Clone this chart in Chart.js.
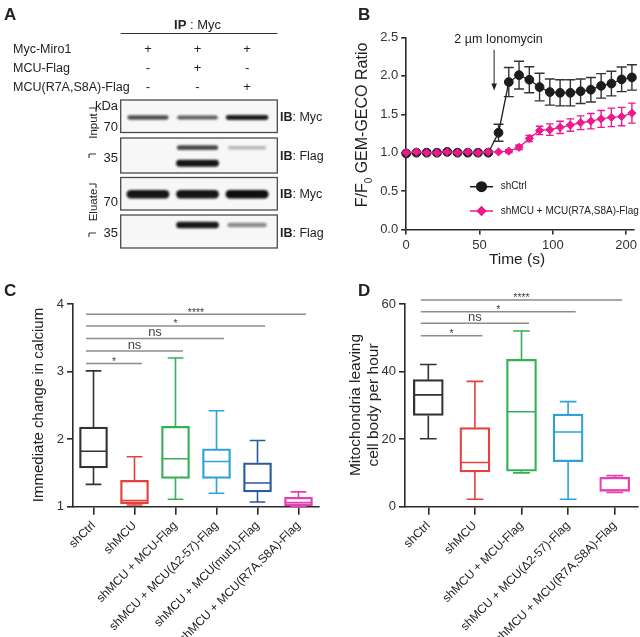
<!DOCTYPE html>
<html>
<head>
<meta charset="utf-8">
<script src="https://cdn.jsdelivr.net/npm/chart.js@4.4.1/dist/chart.umd.min.js"></script>
<style>
  html, body { margin: 0; background: #fff; }
  #fig { position: relative; width: 640px; height: 637px; overflow: hidden; background: #fff; }
  #fig canvas { position: absolute; }
</style>
</head>
<body>
<div id="fig">
  <canvas id="blot" width="330" height="278" style="left:0;top:0"></canvas>
  <canvas id="trace" width="310" height="278" style="left:330px;top:0"></canvas>
  <canvas id="calcium" width="330" height="359" style="left:0;top:278px"></canvas>
  <canvas id="mito" width="310" height="359" style="left:330px;top:278px"></canvas>
</div>
<script>
const FONT = '"Liberation Sans", Arial, Helvetica, sans-serif';
const INK = '#222';
const AXIS = '#2b2b2b';

// ---- panel A : co-IP lanes, band strength 0..1
const mycMiro1Row = ['+', '+', '+'];
const mcuFlagRow = ['-', '+', '-'];
const mcuMutFlagRow = ['-', '-', '+'];
const inputMycBand = [0.7, 0.62, 0.93];
const inputFlagUpperBand = [0, 0.72, 0.2];
const inputFlagLowerBand = [0, 0.97, 0];
const eluateMycBand = [0.97, 0.97, 1];
const eluateFlagBand = [0, 0.95, 0.4];

// ---- panel B : GEM-GECO trace
const timeSec = [0, 7, 14, 21, 28, 35, 42, 49, 56, 63, 70, 77, 84, 91, 98, 105, 112, 119, 126, 133, 140, 147, 154];
const shCtrlRatio = [0.99, 1.0, 1.0, 1.0, 1.01, 1.0, 1.0, 1.0, 1.0, 1.26, 1.92, 2.01, 1.95, 1.855, 1.79, 1.78, 1.78, 1.80, 1.82, 1.87, 1.90, 1.955, 1.98];
const shCtrlSem = [0.01, 0.01, 0.01, 0.01, 0.01, 0.01, 0.01, 0.01, 0.01, 0.11, 0.19, 0.18, 0.17, 0.18, 0.17, 0.17, 0.17, 0.16, 0.16, 0.16, 0.16, 0.16, 0.165];
const rescueRatio = [1.0, 1.01, 1.0, 1.0, 1.01, 1.0, 1.01, 1.0, 1.01, 1.01, 1.02, 1.07, 1.185, 1.29, 1.30, 1.33, 1.36, 1.39, 1.41, 1.44, 1.46, 1.47, 1.515];
const rescueSem = [0.01, 0.01, 0.01, 0.01, 0.01, 0.01, 0.01, 0.01, 0.01, 0.01, 0.02, 0.03, 0.04, 0.055, 0.075, 0.08, 0.08, 0.09, 0.10, 0.11, 0.12, 0.12, 0.13];
const timeTicks = [0, 50, 100, 150];
const timeTickLabels = ['0', '50', '100', '200'];

// ---- panel C : immediate change in calcium
const calciumGroups = ['shCtrl', 'shMCU', 'shMCU + MCU-Flag', 'shMCU + MCU(\u03942-57)-Flag', 'shMCU + MCU(mut1)-Flag', 'shMCU + MCU(R7A,S8A)-Flag'];
const calciumMin = [1.33, 1.025, 1.11, 1.20, 1.07, 1.0];
const calciumQ1 = [1.575, 1.04, 1.42, 1.42, 1.22, 1.015];
const calciumMedian = [1.82, 1.09, 1.71, 1.67, 1.35, 1.06];
const calciumQ3 = [2.18, 1.39, 2.19, 1.855, 1.65, 1.14];
const calciumMax = [3.01, 1.74, 3.2, 2.42, 1.98, 1.22];
const calciumSigTo = [5, 4, 3, 2, 1];
const calciumSigY = [3.85, 3.675, 3.49, 3.305, 3.12];
const calciumSigText = ['****', '*', 'ns', 'ns', '*'];

// ---- panel D : mitochondria leaving cell body
const mitoGroups = ['shCtrl', 'shMCU', 'shMCU + MCU-Flag', 'shMCU + MCU(\u03942-57)-Flag', 'shMCU + MCU(R7A,S8A)-Flag'];
const mitoMin = [20.1, 2.2, 10.0, 2.2, 4.2];
const mitoQ1 = [27.0, 10.3, 10.5, 13.3, 4.5];
const mitoMedian = [33.1, 13.1, 28.1, 22.1, 4.9];
const mitoQ3 = [37.6, 23.4, 43.6, 27.4, 8.7];
const mitoMax = [42.1, 37.1, 52.0, 31.1, 9.2];
const mitoSigTo = [4, 3, 2, 1];
const mitoSigY = [61.2, 57.7, 54.3, 50.6];
const mitoSigText = ['****', '*', 'ns', '*'];

function drawText(ctx, str, x, y, o) {
  o = o || {};
  ctx.save();
  ctx.font = (o.weight || 'normal') + ' ' + (o.size || 12) + 'px ' + FONT;
  ctx.fillStyle = o.color || INK;
  ctx.textAlign = o.align || 'left';
  ctx.textBaseline = o.baseline || 'alphabetic';
  ctx.translate(x, y);
  if (o.rotate) ctx.rotate(o.rotate);
  ctx.fillText(str, 0, 0);
  ctx.restore();
}

// bold prefix + normal rest, e.g. "IB: Myc"
function drawBoldLead(ctx, bold, rest, x, y, size, center) {
  ctx.save();
  ctx.font = 'bold ' + size + 'px ' + FONT;
  const w1 = ctx.measureText(bold).width;
  ctx.font = size + 'px ' + FONT;
  const w2 = ctx.measureText(rest).width;
  const x0 = center ? x - (w1 + w2) / 2 : x;
  ctx.restore();
  drawText(ctx, bold, x0, y, { size: size, weight: 'bold' });
  drawText(ctx, rest, x0 + w1, y, { size: size });
}

function line(ctx, x0, y0, x1, y1) {
  ctx.moveTo(x0, y0); ctx.lineTo(x1, y1);
}

const baseOptions = {
  responsive: false,
  animation: false,
  devicePixelRatio: 1,
  events: []
};

// =============== A: blot ===============
const blotStrips = [[0, 32.5], [38, 73], [77.5, 110], [115, 148]];
const bandRows = [
  { at: 17.5, strength: inputMycBand, thick: 5 },
  { at: 47.7, strength: inputFlagUpperBand, thick: 5.5 },
  { at: 63.2, strength: inputFlagLowerBand, thick: 7 },
  { at: 94.3, strength: eluateMycBand, thick: 8.5 },
  { at: 125, strength: eluateFlagBand, thick: 6.5 }
];

const blotPlugin = {
  id: 'blot',
  beforeDatasetsDraw(chart) {
    const { ctx, scales: { x, y } } = chart;
    const x0 = x.getPixelForValue(x.min), x1 = x.getPixelForValue(x.max);
    ctx.save();
    blotStrips.forEach(s => {
      const t = y.getPixelForValue(s[0]), b = y.getPixelForValue(s[1]);
      ctx.fillStyle = '#f7f7f7';
      ctx.fillRect(x0, t, x1 - x0, b - t);
    });
    ctx.filter = 'blur(1.1px)';
    bandRows.forEach(row => row.strength.forEach((s, i) => {
      if (s <= 0.02) return;
      const cx = x.getPixelForValue(i), cy = y.getPixelForValue(row.at);
      const w = 37 + 6 * s, h = row.thick * (0.55 + 0.45 * s);
      ctx.fillStyle = 'rgba(14,14,14,' + Math.min(1, 0.1 + 0.9 * s) + ')';
      ctx.beginPath();
      if (ctx.roundRect) ctx.roundRect(cx - w / 2, cy - h / 2, w, h, h / 2);
      else ctx.rect(cx - w / 2, cy - h / 2, w, h);
      ctx.fill();
    }));
    ctx.filter = 'none';
    ctx.strokeStyle = '#4a4a4a';
    ctx.lineWidth = 1.3;
    blotStrips.forEach(s => {
      const t = y.getPixelForValue(s[0]), b = y.getPixelForValue(s[1]);
      ctx.strokeRect(x0, t, x1 - x0, b - t);
    });
    ctx.restore();
  },
  afterDraw(chart) {
    const { ctx, scales: { x } } = chart;
    const x0 = x.getPixelForValue(x.min), x1 = x.getPixelForValue(x.max);
    drawText(ctx, 'A', 4, 20, { size: 17, weight: 'bold' });
    drawBoldLead(ctx, 'IP', ' : Myc', x.getPixelForValue(1), 29, 13, true);
    ctx.save();
    ctx.strokeStyle = '#333'; ctx.lineWidth = 1.2;
    ctx.beginPath(); line(ctx, x0, 33.5, x1, 33.5); ctx.stroke();
    ctx.restore();

    const rows = [['Myc-Miro1', mycMiro1Row, 53], ['MCU-Flag', mcuFlagRow, 72], ['MCU(R7A,S8A)-Flag', mcuMutFlagRow, 91]];
    rows.forEach(r => {
      drawText(ctx, r[0], 13, r[2], { size: 12.5 });
      r[1].forEach((s, i) => drawText(ctx, s, x.getPixelForValue(i), r[2], { size: 13, align: 'center' }));
    });

    [['kDa', 110], ['70', 131], ['35', 161.5], ['70', 206], ['35', 236.5]].forEach(m =>
      drawText(ctx, m[0], 118, m[1], { size: 13, align: 'right' }));

    drawText(ctx, 'Input', 94, 126, { size: 11.5, align: 'center', baseline: 'middle', rotate: -Math.PI / 2 });
    drawText(ctx, 'Eluate', 94, 205, { size: 11.5, align: 'center', baseline: 'middle', rotate: -Math.PI / 2 });
    ctx.save();
    ctx.strokeStyle = '#333'; ctx.lineWidth = 1.1;
    ctx.beginPath();
    [[108, 154], [184, 233]].forEach(b => {
      line(ctx, 89, b[0], 96, b[0]); line(ctx, 96, b[0], 96, b[0] + 4);
      line(ctx, 89, b[1], 96, b[1]); line(ctx, 89, b[1], 89, b[1] + 4);
    });
    ctx.stroke();
    ctx.restore();

    [['Myc', 121], ['Flag', 160], ['Myc', 198], ['Flag', 236.5]].forEach(m =>
      drawBoldLead(ctx, 'IB', ': ' + m[0], 280, m[1], 12.5, false));
  }
};

new Chart(document.getElementById('blot'), {
  type: 'scatter',
  data: { datasets: [] },
  options: Object.assign({}, baseOptions, {
    layout: { autoPadding: false, padding: { left: 120.7, right: 52.7, top: 100, bottom: 30 } },
    plugins: { legend: { display: false }, tooltip: { enabled: false } },
    scales: {
      x: { type: 'linear', display: false, min: -0.55, max: 2.61 },
      y: { type: 'linear', display: false, min: 0, max: 148, reverse: true }
    }
  }),
  plugins: [blotPlugin]
});

// =============== B: trace ===============
const PINK = '#ec1a8d';
const DARK = '#1c1c1c';

const errorBars = {
  id: 'errorBars',
  beforeDatasetsDraw(chart) {
    const { ctx, scales: { x, y } } = chart;
    ctx.save();
    chart.data.datasets.forEach(ds => {
      ctx.strokeStyle = ds.barColor;
      ctx.lineWidth = 1.4;
      ctx.beginPath();
      ds.data.forEach((p, i) => {
        const e = ds.sem[i];
        if (e < 0.02) return;
        const px = x.getPixelForValue(p.x);
        const hi = y.getPixelForValue(p.y + e), lo = y.getPixelForValue(p.y - e);
        line(ctx, px, hi, px, lo);
        line(ctx, px - ds.capHalf, hi, px + ds.capHalf, hi);
        line(ctx, px - ds.capHalf, lo, px + ds.capHalf, lo);
      });
      ctx.stroke();
    });
    ctx.restore();
  }
};

const traceDecor = {
  id: 'traceDecor',
  afterDraw(chart) {
    const { ctx, scales: { x, y } } = chart;
    drawText(ctx, 'B', 28, 20, { size: 17, weight: 'bold' });

    // ionomycin arrow
    const ax = x.getPixelForValue(60);
    const aTop = y.getPixelForValue(2.34), aTip = y.getPixelForValue(1.81);
    ctx.save();
    ctx.strokeStyle = '#222'; ctx.fillStyle = '#222'; ctx.lineWidth = 1;
    ctx.beginPath(); line(ctx, ax, aTop, ax, aTip - 5); ctx.stroke();
    ctx.beginPath(); ctx.moveTo(ax - 2.8, aTip - 7); ctx.lineTo(ax + 2.8, aTip - 7); ctx.lineTo(ax, aTip); ctx.closePath(); ctx.fill();
    ctx.restore();
    drawText(ctx, '2 \u00b5m Ionomycin', x.getPixelForValue(63), y.getPixelForValue(2.5) + 5.5, { size: 12.5, align: 'center' });

    // legend
    const legend = [['shCtrl', DARK, 'circle', 186.7], ['shMCU + MCU(R7A,S8A)-Flag', PINK, 'rectRot', 211]];
    legend.forEach(l => {
      ctx.save();
      ctx.strokeStyle = l[1]; ctx.lineWidth = 1.5;
      ctx.beginPath(); line(ctx, 140, l[3], 163, l[3]); ctx.stroke();
      ctx.fillStyle = l[1];
      Chart.helpers.drawPoint(ctx, { pointStyle: l[2], radius: l[2] === 'circle' ? 4.8 : 4.2, borderWidth: 1 }, 151.5, l[3]);
      ctx.fill();
      ctx.restore();
      drawText(ctx, l[0], 170.7, l[3], { size: 10, baseline: 'middle' });
    });

    // y title with subscript
    ctx.save();
    ctx.translate(33, 125);
    ctx.rotate(-Math.PI / 2);
    ctx.fillStyle = INK;
    ctx.textBaseline = 'middle';
    const big = '16px ' + FONT, small = '10px ' + FONT;
    ctx.font = big;
    const w1 = ctx.measureText('F/F').width, w3 = ctx.measureText(' GEM-GECO Ratio').width;
    ctx.font = small;
    const w2 = ctx.measureText('0').width;
    let sx = -(w1 + w2 + w3) / 2;
    ctx.font = big; ctx.fillText('F/F', sx, 0);
    ctx.font = small; ctx.fillText('0', sx + w1, 6);
    ctx.font = big; ctx.fillText(' GEM-GECO Ratio', sx + w1 + w2, 0);
    ctx.restore();

    drawText(ctx, 'Time (s)', 187, 260, { size: 15.5, align: 'center', baseline: 'middle' });
  }
};

new Chart(document.getElementById('trace'), {
  type: 'scatter',
  data: {
    datasets: [
      {
        label: 'shMCU + MCU(R7A,S8A)-Flag',
        data: timeSec.map((t, i) => ({ x: t, y: rescueRatio[i] })),
        sem: rescueSem, capHalf: 3.8, barColor: PINK,
        showLine: true, borderColor: PINK, backgroundColor: PINK, borderWidth: 1.3,
        pointStyle: 'rectRot', pointRadius: 4.1, pointBorderWidth: 1,
        order: 0, clip: false
      },
      {
        label: 'shCtrl',
        data: timeSec.map((t, i) => ({ x: t, y: shCtrlRatio[i] })),
        sem: shCtrlSem, capHalf: 5, barColor: '#333',
        showLine: true, borderColor: DARK, backgroundColor: DARK, borderWidth: 1.3,
        pointStyle: 'circle', pointRadius: 4.4, pointBorderWidth: 1,
        order: 1, clip: false
      }
    ]
  },
  options: Object.assign({}, baseOptions, {
    layout: { autoPadding: false, padding: { left: 0, right: 3.4, top: 37.5, bottom: 0 } },
    plugins: { legend: { display: false }, tooltip: { enabled: false } },
    scales: {
      x: {
        type: 'linear', min: 0, max: 155,
        afterFit: s => { s.height = 48.5; },
        afterBuildTicks: s => { s.ticks = timeTicks.map(v => ({ value: v })); },
        border: { color: AXIS, width: 1.6 },
        grid: { drawOnChartArea: false, color: AXIS, lineWidth: 1.6, tickLength: 5 },
        ticks: { autoSkip: false, maxRotation: 0, color: '#333', font: { size: 13 }, padding: 3,
          callback: v => timeTickLabels[timeTicks.indexOf(v)] }
      },
      y: {
        type: 'linear', min: 0, max: 2.5,
        afterFit: s => { s.width = 76.2; },
        border: { color: AXIS, width: 1.6 },
        grid: { drawOnChartArea: false, color: AXIS, lineWidth: 1.6, tickLength: 5 },
        ticks: { stepSize: 0.5, color: '#333', font: { size: 13 }, padding: 3, callback: v => v.toFixed(1) }
      }
    }
  }),
  plugins: [errorBars, traceDecor]
});

// =============== C / D: box plots ===============
function boxExtras(o) {
  return {
    id: 'boxExtras',
    afterDatasetsDraw(chart) {
      const { ctx, scales: { x, y } } = chart;
      const py = v => y.getPixelForValue(v);
      ctx.save();
      ctx.lineWidth = 1.6;
      o.groups.forEach((g, i) => {
        const cx = x.getPixelForValue(i);
        const half = o.boxWidth / 2 - 0.8, cap = o.boxWidth * 0.28;
        ctx.strokeStyle = o.colors[i];
        ctx.beginPath();
        line(ctx, cx - half, py(o.median[i]), cx + half, py(o.median[i]));
        line(ctx, cx, py(o.q3[i]), cx, py(o.max[i]));
        line(ctx, cx - cap, py(o.max[i]), cx + cap, py(o.max[i]));
        line(ctx, cx, py(o.q1[i]), cx, py(o.min[i]));
        line(ctx, cx - cap, py(o.min[i]), cx + cap, py(o.min[i]));
        ctx.stroke();
      });
      ctx.strokeStyle = '#8c8c8c';
      ctx.lineWidth = 1.5;
      o.sigTo.forEach((j, k) => {
        const yy = py(o.sigY[k]);
        const xa = x.getPixelForValue(0) - 7.5, xb = x.getPixelForValue(j) + 7.5;
        ctx.beginPath(); line(ctx, xa, yy, xb, yy); ctx.stroke();
        const t = o.sigText[k];
        if (t === 'ns') drawText(ctx, t, (xa + xb) / 2, yy - 2, { size: 13, align: 'center', color: '#444' });
        else drawText(ctx, t, (xa + xb) / 2, yy + 1.5, { size: 10.5, align: 'center', color: '#444' });
      });
      ctx.restore();
    },
    afterDraw(chart) {
      const ctx = chart.ctx;
      drawText(ctx, o.letter, o.letterX, 18, { size: 17, weight: 'bold' });
      o.titles.forEach(t => drawText(ctx, t[0], t[1], 127, { size: o.titleSize, align: 'center', baseline: 'middle', rotate: -Math.PI / 2 }));
    }
  };
}

function boxPlot(canvasId, o) {
  return new Chart(document.getElementById(canvasId), {
    type: 'bar',
    data: {
      labels: o.groups,
      datasets: [{
        data: o.q1.map((v, i) => [v, o.q3[i]]),
        backgroundColor: 'rgba(255,255,255,0)',
        borderColor: o.colors,
        borderWidth: 1.6,
        borderSkipped: false,
        barThickness: o.boxWidth
      }]
    },
    options: Object.assign({}, baseOptions, {
      layout: { autoPadding: false, padding: { left: 0, right: o.padRight, top: 26, bottom: 0 } },
      plugins: { legend: { display: false }, tooltip: { enabled: false } },
      scales: {
        x: {
          offset: true,
          afterFit: s => { s.height = 130.3; },
          border: { color: AXIS, width: 1.6 },
          grid: { offset: false, drawOnChartArea: false, color: AXIS, lineWidth: 1.6, tickLength: 8 },
          ticks: { autoSkip: false, minRotation: 45, maxRotation: 45, color: INK, font: { size: 12 }, padding: 4 }
        },
        y: {
          min: o.yMin, max: o.yMax,
          afterFit: s => { s.width = o.yWidth; },
          border: { color: AXIS, width: 1.6 },
          grid: { drawOnChartArea: false, color: AXIS, lineWidth: 1.6, tickLength: 6 },
          ticks: { stepSize: o.yStep, color: '#333', font: { size: 13 }, padding: 3 }
        }
      }
    }),
    plugins: [boxExtras(o)]
  });
}

boxPlot('calcium', {
  groups: calciumGroups, min: calciumMin, q1: calciumQ1, median: calciumMedian, q3: calciumQ3, max: calciumMax,
  colors: ['#333333', '#e5403c', '#36b057', '#2ea1d9', '#2c5b9c', '#e342b3'],
  sigTo: calciumSigTo, sigY: calciumSigY, sigText: calciumSigText,
  boxWidth: 28, yMin: 1, yMax: 4, yStep: 1, yWidth: 73, padRight: 11,
  letter: 'C', letterX: 4, titleSize: 15, titles: [['Immediate change in calcium', 39]]
});

boxPlot('mito', {
  groups: mitoGroups, min: mitoMin, q1: mitoQ1, median: mitoMedian, q3: mitoQ3, max: mitoMax,
  colors: ['#333333', '#e5403c', '#36b057', '#2ea1d9', '#e342b3'],
  sigTo: mitoSigTo, sigY: mitoSigY, sigText: mitoSigText,
  boxWidth: 30, yMin: 0, yMax: 60, yStep: 20, yWidth: 75, padRight: 2,
  letter: 'D', letterX: 28, titleSize: 15.5, titles: [['Mitochondria leaving', 26], ['cell body per hour', 44]]
});
</script>
</body>
</html>
